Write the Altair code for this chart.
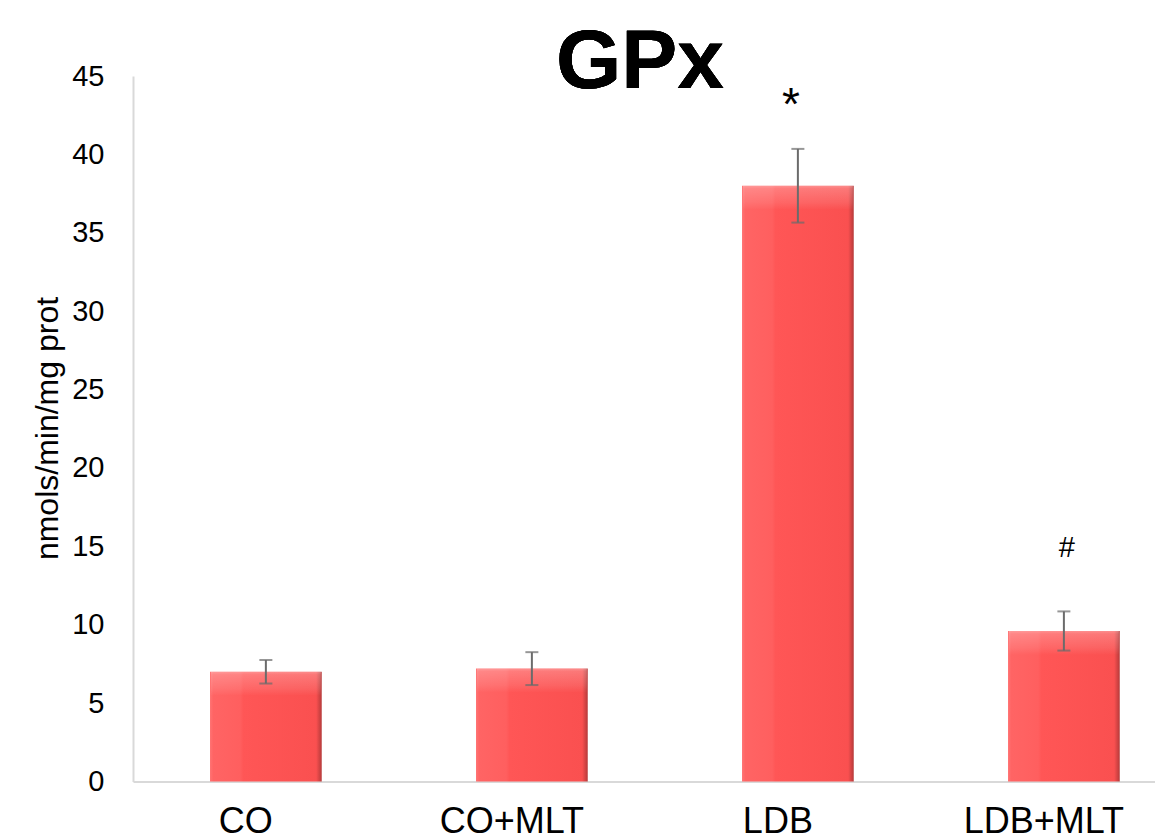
import altair as alt
import pandas as pd

# Glutathione peroxidase activity per group (mean and error)
groups = ["CO", "CO+MLT", "LDB", "LDB+MLT"]
means = [7.0, 7.2, 38.0, 9.6]
errors = [0.75, 1.05, 2.35, 1.25]

# Significance markers and the value level they sit at
sig_labels = ["", "", "*", "#"]
sig_levels = [0, 0, 43.4, 14.9]

y_ticks = [0, 5, 10, 15, 20, 25, 30, 35, 40, 45]

FONT = "Liberation Sans"

df = pd.DataFrame({"group": groups, "mean": means, "err": errors})
df["lo"] = df["mean"] - df["err"]
df["hi"] = df["mean"] + df["err"]

sig = pd.DataFrame({"group": groups, "label": sig_labels, "level": sig_levels})
sig = sig[sig["label"] != ""]

x_scale = alt.Scale(domain=groups, paddingInner=0.58, paddingOuter=0.211, align=0.686)
x_axis = alt.Axis(
    title=None, labelAngle=0, labelFont=FONT, labelFontSize=36, labelColor="black",
    labelPadding=23, labelOffset=-20, ticks=False, tickSize=0,
    domainColor="#d9d9d9", domainWidth=2,
)
y_scale = alt.Scale(domain=[0, 45], nice=False)
y_axis = alt.Axis(
    values=y_ticks, grid=False, ticks=False, tickSize=0, labelPadding=29,
    labelFont=FONT, labelFontSize=29, labelColor="black",
    domainColor="#d9d9d9", domainWidth=2,
    title="nmols/min/mg prot", titleFont=FONT, titleFontSize=32,
    titleFontWeight="normal", titleColor="black", titleAngle=-90,
    titleX=-86, titleY=352, titleBaseline="middle", titleAlign="center",
)


def xenc():
    return alt.X("group:N", sort=groups, scale=x_scale, axis=x_axis)


def yenc(field):
    return alt.Y(f"{field}:Q", scale=y_scale, axis=y_axis)


body_fill = alt.Gradient(
    gradient="linear", x1=0, y1=0, x2=1, y2=0,
    stops=[
        alt.GradientStop(offset=0.0, color="#ff7373"),
        alt.GradientStop(offset=0.03, color="#ff6464"),
        alt.GradientStop(offset=0.27, color="#ff5f5f"),
        alt.GradientStop(offset=0.30, color="#ff5656"),
        alt.GradientStop(offset=0.95, color="#fa5050"),
        alt.GradientStop(offset=1.0, color="#b53a3a"),
    ],
)

# lighter bevel along the top edge of every bar
bevel_fill = alt.Gradient(
    gradient="linear", x1=0, y1=0, x2=0, y2=1,
    stops=[
        alt.GradientStop(offset=0.0, color="rgba(255,255,255,0.5)"),
        alt.GradientStop(offset=0.12, color="rgba(255,255,255,0.32)"),
        alt.GradientStop(offset=0.7, color="rgba(255,255,255,0.14)"),
        alt.GradientStop(offset=1.0, color="rgba(255,255,255,0.0)"),
    ],
)

bars = alt.Chart(df).mark_bar(fill=body_fill).encode(x=xenc(), y=yenc("mean"))

bevel = alt.Chart(df).mark_tick(
    filled=True, size=110, thickness=24, yOffset=12, fill=bevel_fill
).encode(x=xenc(), y=yenc("mean"))

err_line = alt.Chart(df).mark_rule(color="#6b6b6b", strokeWidth=2).encode(
    x=xenc(), y=yenc("lo"), y2="hi"
)
cap_lo = alt.Chart(df).mark_tick(color="#6b6b6b", size=13, thickness=2).encode(
    x=xenc(), y=yenc("lo")
)
cap_hi = alt.Chart(df).mark_tick(color="#6b6b6b", size=13, thickness=2).encode(
    x=xenc(), y=yenc("hi")
)

star = alt.Chart(sig).transform_filter(alt.datum.label == "*").mark_text(
    font=FONT, fontSize=46, color="black", baseline="middle", dx=-7, dy=5
).encode(x=xenc(), y=yenc("level"), text="label:N")

hash_mark = alt.Chart(sig).transform_filter(alt.datum.label == "#").mark_text(
    font=FONT, fontSize=29, color="black", baseline="middle", dx=3
).encode(x=xenc(), y=yenc("level"), text="label:N")

title = alt.Chart(df).mark_text(
    text="GPx", font=FONT, fontSize=84, fontWeight="bold", color="black",
    baseline="alphabetic", align="center",
).encode(x=alt.value(507), y=alt.value(12))

chart = (
    alt.layer(bars, bevel, err_line, cap_lo, cap_hi, star, hash_mark, title)
    .properties(
        width=1022,
        height=705.5,
        autosize=alt.AutoSizeParams(type="none"),
        padding={"left": 133, "top": 76, "right": 0, "bottom": 58},
        background="white",
    )
    .configure_view(stroke=None)
)

chart.save("out.html", embed_options={"renderer": "svg", "actions": False})
